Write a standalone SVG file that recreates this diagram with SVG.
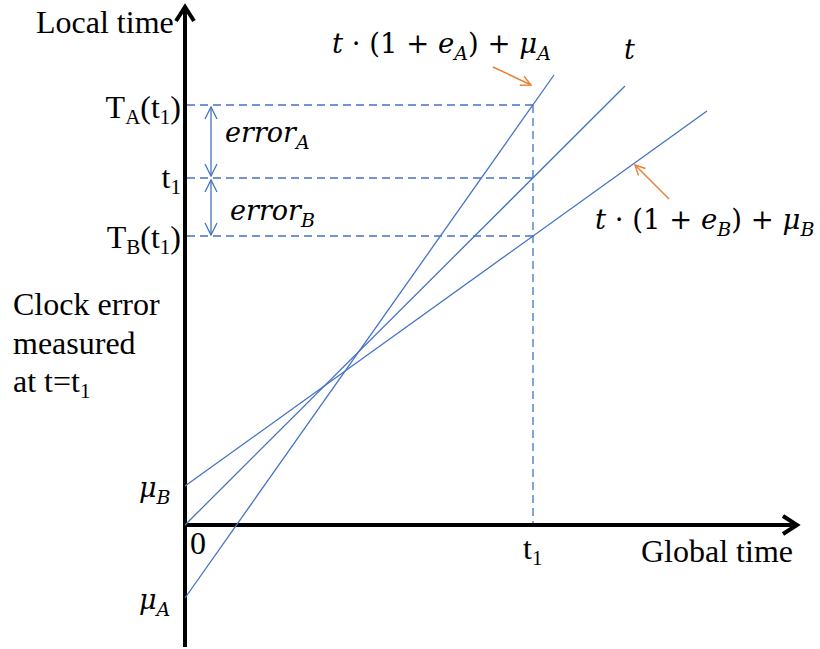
<svg xmlns="http://www.w3.org/2000/svg" width="820" height="649" viewBox="0 0 820 649">
<style>
.ln{stroke:#4472C4;stroke-width:1.3;fill:none}
.ds{stroke:#4472C4;stroke-width:1.3;stroke-dasharray:8,5;fill:none}
.ax{stroke:#000;stroke-width:4;fill:none}
.or{stroke:#ED7D31;stroke-width:1.4;fill:none}
</style>
<defs>
<marker id="oa" viewBox="0 0 12 12" refX="11" refY="6" markerWidth="12" markerHeight="12" markerUnits="userSpaceOnUse" orient="auto">
<path d="M1,1 L11,6 L1,11" stroke="#ED7D31" stroke-width="1.4" fill="none"/>
</marker>
<marker id="ba" viewBox="0 0 14 14" refX="13" refY="7" markerWidth="14" markerHeight="14" markerUnits="userSpaceOnUse" orient="auto-start-reverse">
<path d="M1,1 L13,7 L1,13" stroke="#4472C4" stroke-width="1.3" fill="none"/>
</marker>
</defs>
<rect width="820" height="649" fill="#fff"/>
<g id="axes">
<line class="ax" x1="185" y1="647" x2="185" y2="8"/>
<path class="ax" d="M176,21 L185,7 L194,21"/>
<line class="ax" x1="183" y1="525" x2="796" y2="525"/>
<path class="ax" d="M783,516 L797,525 L783,534"/>
</g>
<g id="connectors">
<line class="ds" x1="187" y1="105" x2="533" y2="105"/>
<line class="ds" x1="187" y1="178" x2="533" y2="178"/>
<line class="ds" x1="187" y1="236" x2="533" y2="236"/>
<line class="ds" x1="533" y1="105" x2="533" y2="523"/>
<line class="ln" x1="185" y1="598" x2="554" y2="75"/>
<line class="ln" x1="185" y1="525" x2="625" y2="86"/>
<line class="ln" x1="185" y1="486" x2="707" y2="111"/>
<line class="ln" x1="211" y1="107" x2="211" y2="176" marker-start="url(#ba)" marker-end="url(#ba)"/>
<line class="ln" x1="211" y1="180" x2="211" y2="235" marker-start="url(#ba)" marker-end="url(#ba)"/>
<line class="or" x1="493" y1="67" x2="531" y2="85" marker-end="url(#oa)"/>
<line class="or" x1="669" y1="199" x2="635" y2="165" marker-end="url(#oa)"/>
</g>
<g id="labels" font-family="Liberation Serif, Times New Roman, serif" font-size="32" fill="#000">
<text x="36" y="33">Local time</text>
<text x="181" y="118" text-anchor="end">T<tspan font-size="21" dy="6">A</tspan><tspan dy="-6">(t</tspan><tspan font-size="21" dy="6">1</tspan><tspan dy="-6">)</tspan></text>
<text x="181" y="188" text-anchor="end">t<tspan font-size="21" dy="6">1</tspan></text>
<text x="181" y="248" text-anchor="end">T<tspan font-size="21" dy="6">B</tspan><tspan dy="-6">(t</tspan><tspan font-size="21" dy="6">1</tspan><tspan dy="-6">)</tspan></text>
<text x="13" y="315">Clock error</text>
<text x="13" y="354">measured</text>
<text x="13" y="392">at t=t<tspan font-size="21" dy="6">1</tspan></text>
<text x="190" y="554">0</text>
<text x="523" y="559">t<tspan font-size="21" dy="6">1</tspan></text>
<text x="641" y="562">Global time</text>
</g>
<g id="math" font-family="DejaVu Serif, Liberation Serif, serif" font-size="27" fill="#000">
<text x="225" y="142" font-style="italic">error<tspan font-size="19" dy="7">A</tspan></text>
<text x="230" y="220" font-style="italic">error<tspan font-size="19" dy="7">B</tspan></text>
<text x="139" y="497" font-style="italic">μ<tspan font-size="19" dy="7">B</tspan></text>
<text x="139" y="609" font-style="italic">μ<tspan font-size="19" dy="7">A</tspan></text>
<text x="332" y="53" font-size="27.5"><tspan font-style="italic">t</tspan> · (1 + <tspan font-style="italic">e</tspan><tspan font-style="italic" font-size="19" dy="7">A</tspan><tspan dy="-7">) + </tspan><tspan font-style="italic">μ</tspan><tspan font-style="italic" font-size="19" dy="7">A</tspan></text>
<text x="624" y="59" font-style="italic">t</text>
<text x="595" y="229" font-size="27.5"><tspan font-style="italic">t</tspan> · (1 + <tspan font-style="italic">e</tspan><tspan font-style="italic" font-size="19" dy="7">B</tspan><tspan dy="-7">) + </tspan><tspan font-style="italic">μ</tspan><tspan font-style="italic" font-size="19" dy="7">B</tspan></text>
</g>
</svg>
